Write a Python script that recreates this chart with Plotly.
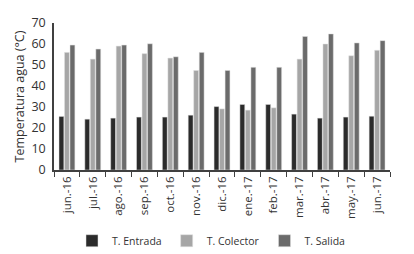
import plotly.graph_objects as go

categories = ["jun.-16", "jul.-16", "ago.-16", "sep.-16", "oct.-16", "nov.-16", "dic.-16",
              "ene.-17", "feb.-17", "mar.-17", "abr.-17", "may.-17", "jun.-17"]
t_entrada = [25.5, 24.2, 24.7, 25.2, 25.2, 26.1, 30.2, 31.2, 31.2, 26.6, 24.7, 25.2, 25.6]
t_colector = [56.0, 52.8, 59.0, 55.4, 53.3, 47.4, 29.1, 28.5, 29.6, 52.8, 60.0, 54.4, 57.0]
t_salida = [59.5, 57.6, 59.5, 60.1, 53.9, 56.0, 47.4, 48.9, 48.9, 63.6, 64.8, 60.5, 61.6]
y_ticks = [0, 10, 20, 30, 40, 50, 60, 70]

font = "Open Sans"
fig = go.Figure()
for name, vals, col in [("T. Entrada", t_entrada, "#2b2b2b"),
                        ("T. Colector", t_colector, "#a6a6a6"),
                        ("T. Salida", t_salida, "#6b6b6b")]:
    fig.add_trace(go.Bar(x=categories, y=vals, name=name, marker_color=col,
                         marker_line_width=0.5, marker_line_color="#e0e0e0"))

fig.update_layout(
    width=406, height=246,
    margin=dict(l=46, r=24, t=15, b=84, autoexpand=False),
    paper_bgcolor="white", plot_bgcolor="white",
    barmode="group", bargap=0.36, bargroupgap=0.12,
    font=dict(family=font, color="#333333", size=11),
    showlegend=True,
    legend=dict(orientation="h", x=0.5, xref="container", xanchor="center",
                y=0.054, yref="container", yanchor="middle",
                font=dict(size=10.5, color="#333333"), itemwidth=30, traceorder="normal"),
)
fig.update_xaxes(showline=True, linecolor="#404040", linewidth=1.5,
                 ticks="outside", tickson="boundaries", ticklen=5, tickcolor="#404040",
                 tickangle=-90, tickfont=dict(size=11.5), showgrid=False)
fig.update_yaxes(range=[0, 70], tickvals=y_ticks, showline=True, linecolor="#404040",
                 linewidth=1.5, showgrid=False, zeroline=False, tickfont=dict(size=12.5),
                 ticklabelstandoff=4,
                 title=dict(text="Temperatura agua (°C)", font=dict(size=12.5), standoff=4))

fig.write_html("out.html")
